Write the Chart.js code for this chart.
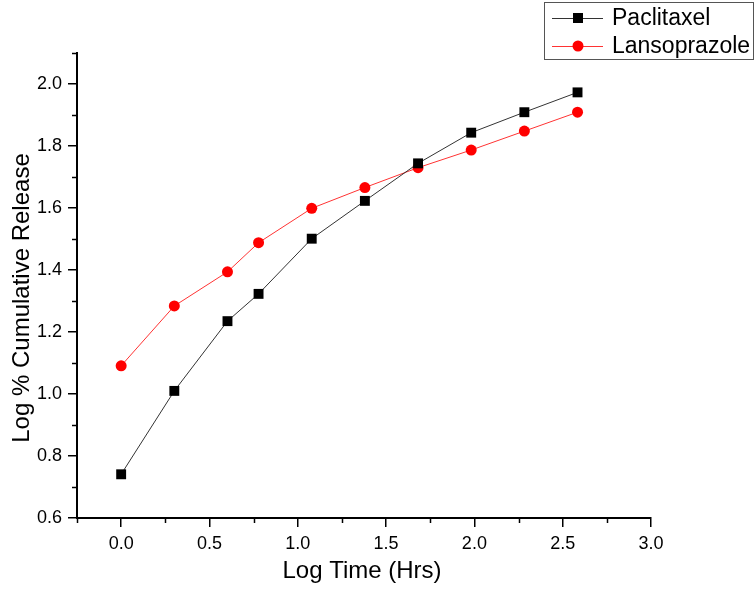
<!DOCTYPE html>
<html>
<head>
<meta charset="utf-8">
<script src="https://cdn.jsdelivr.net/npm/chart.js@4.4.1/dist/chart.umd.min.js"></script>
<style>
    body { margin: 0; background: #fff; }
    #wrap { width: 756px; height: 591px; }
</style>
</head>
<body>
<div id="wrap"><canvas id="chart"></canvas></div>
<script>
// log time points (hrs)
const logTime = [0, 0.301, 0.602, 0.778, 1.079, 1.380, 1.681, 1.982, 2.283, 2.584];
const paclitaxel = [0.741, 1.010, 1.235, 1.323, 1.501, 1.623, 1.744, 1.843, 1.909, 1.973];
const lansoprazole = [1.091, 1.284, 1.394, 1.488, 1.599, 1.666, 1.730, 1.787, 1.848, 1.909];

const xTicks = [0, 0.5, 1.0, 1.5, 2.0, 2.5, 3.0];
const yTicks = [0.6, 0.8, 1.0, 1.2, 1.4, 1.6, 1.8, 2.0];
const xMinorTicks = [-0.25, 0.25, 0.75, 1.25, 1.75, 2.25, 2.75];
const yMinorTicks = [0.7, 0.9, 1.1, 1.3, 1.5, 1.7, 1.9, 2.1];

const xTitle = 'Log Time (Hrs)';
const yTitle = 'Log % Cumulative Release';

const FONT = 'Arial, "Liberation Sans", sans-serif';

function toPoints(xs, ys) {
    return xs.map((x, i) => ({ x: x, y: ys[i] }));
}

// minor tick marks, axis titles, legend box
const extrasPlugin = {
    id: 'extras',
    afterDraw(chart) {
        const ctx = chart.ctx;
        const xs = chart.scales.x;
        const ys = chart.scales.y;
        const area = chart.chartArea;
        ctx.save();
        ctx.strokeStyle = '#000';
        ctx.lineWidth = 1.5;
        xMinorTicks.forEach(v => {
            const px = Math.round(xs.getPixelForValue(v)) + 0.5;
            ctx.beginPath();
            ctx.moveTo(px, area.bottom);
            ctx.lineTo(px, area.bottom + 5);
            ctx.stroke();
        });
        yMinorTicks.forEach(v => {
            const py = Math.round(ys.getPixelForValue(v)) + 0.5;
            ctx.beginPath();
            ctx.moveTo(area.left, py);
            ctx.lineTo(area.left - 5, py);
            ctx.stroke();
        });

        // axis titles
        ctx.fillStyle = '#000';
        ctx.font = '24px ' + FONT;
        ctx.textAlign = 'center';
        ctx.textBaseline = 'alphabetic';
        ctx.fillText(xTitle, (area.left + area.right) / 2 - 2, 578);
        ctx.save();
        ctx.translate(29, 298);
        ctx.rotate(-Math.PI / 2);
        ctx.fillText(yTitle, 0, 0);
        ctx.restore();

        // legend
        ctx.lineWidth = 1;
        ctx.strokeStyle = '#555';
        ctx.strokeRect(544.5, 2.5, 209, 57);
        const rows = [18, 46];
        chart.data.datasets.forEach((ds, i) => {
            const y = rows[i];
            ctx.strokeStyle = ds.borderColor;
            ctx.lineWidth = 1;
            ctx.beginPath();
            ctx.moveTo(552, y + 0.5);
            ctx.lineTo(603, y + 0.5);
            ctx.stroke();
            ctx.fillStyle = ds.pointBackgroundColor;
            if (ds.pointStyle === 'rect') {
                ctx.fillRect(573, y - 5, 10, 10);
            } else {
                ctx.beginPath();
                ctx.arc(578, y, 5.5, 0, Math.PI * 2);
                ctx.fill();
            }
            ctx.fillStyle = '#000';
            ctx.font = '23px ' + FONT;
            ctx.textBaseline = 'middle';
            ctx.textAlign = 'left';
            ctx.fillText(ds.label, 612, y + 1);
        });
        ctx.restore();
    }
};

new Chart(document.getElementById('chart'), {
    type: 'line',
    data: {
        datasets: [{
            label: 'Paclitaxel',
            data: toPoints(logTime, paclitaxel),
            borderColor: '#333',
            borderWidth: 1,
            pointStyle: 'rect',
            pointRadius: 7,
            pointBackgroundColor: '#000',
            pointBorderWidth: 0,
            tension: 0
        }, {
            label: 'Lansoprazole',
            data: toPoints(logTime, lansoprazole),
            borderColor: '#ff3333',
            borderWidth: 1,
            pointStyle: 'circle',
            pointRadius: 5.5,
            pointBackgroundColor: '#ff0000',
            pointBorderWidth: 0,
            tension: 0
        }]
    },
    options: {
        responsive: true,
        maintainAspectRatio: false,
        animation: false,
        layout: { padding: { left: 0, top: 53, right: 105, bottom: 0 } },
        plugins: {
            legend: { display: false },
            tooltip: { enabled: false }
        },
        scales: {
            x: {
                type: 'linear',
                min: -0.25,
                max: 3.0,
                afterBuildTicks(scale) { scale.ticks = xTicks.map(v => ({ value: v })); },
                afterFit(scale) { scale.height = 73; },
                border: { display: true, color: '#000', width: 2 },
                grid: { drawOnChartArea: false, drawTicks: true, tickLength: 9, color: '#000', lineWidth: 1.5 },
                ticks: {
                    color: '#000',
                    padding: 6,
                    font: { family: FONT, size: 18 },
                    callback: v => v.toFixed(1)
                }
            },
            y: {
                type: 'linear',
                min: 0.6,
                max: 2.1,
                afterBuildTicks(scale) { scale.ticks = yTicks.map(v => ({ value: v })); },
                afterFit(scale) { scale.width = 77; },
                border: { display: true, color: '#000', width: 2 },
                grid: { drawOnChartArea: false, drawTicks: true, tickLength: 9, color: '#000', lineWidth: 1.5 },
                ticks: {
                    color: '#000',
                    padding: 6,
                    font: { family: FONT, size: 18 },
                    callback: v => v.toFixed(1)
                }
            }
        }
    },
    plugins: [extrasPlugin]
});
</script>
</body>
</html>
